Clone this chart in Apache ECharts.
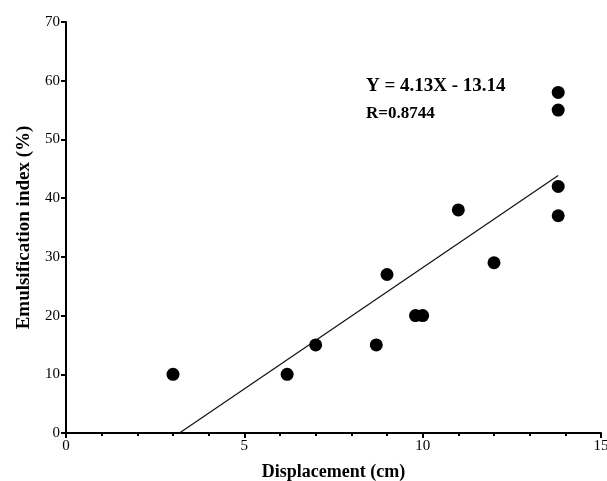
<!DOCTYPE html>
<html>
<head>
<meta charset="utf-8">
<script src="https://cdn.jsdelivr.net/npm/echarts@6/dist/echarts.min.js"></script>
<style>html,body{margin:0;padding:0;background:#fff;overflow:hidden;}#c{width:607px;height:481px;display:block;}</style>
</head>
<body>
<div id="c"></div>
<script>
// Data
const displacement = [3.0, 6.2, 7.0, 8.7, 9.0, 9.8, 10.0, 11.0, 12.0, 13.8, 13.8, 13.8, 13.8];
const emulsification = [10, 10, 15, 15, 27, 20, 20, 38, 29, 58, 55, 42, 37];
const slope = 4.13;
const intercept = -13.14;
const fitXRange = [13.14 / 4.13, 13.8];
const equationText = 'Y = 4.13X - 13.14';
const rText = 'R=0.8744';

const points = displacement.map((x, i) => [x, emulsification[i]]);
const fitLine = fitXRange.map(x => [x, slope * x + intercept]);

const FONT = '"Liberation Serif", "DejaVu Serif", serif';
const chart = echarts.init(document.getElementById('c'), null, {renderer: 'canvas', width: 607, height: 481});
chart.setOption({
  backgroundColor: '#ffffff',
  animation: false,
  grid: {left: 66, right: 6, top: 22, bottom: 48, containLabel: false, outerBoundsMode: 'none'},
  xAxis: {
    type: 'value', min: 0, max: 15, interval: 5,
    name: 'Displacement (cm)', nameLocation: 'middle', nameGap: 30,
    nameTextStyle: {fontFamily: FONT, fontWeight: 'bold', fontSize: 18, color: '#000'},
    axisLine: {show: true, onZero: false, lineStyle: {color: '#000', width: 2}},
    axisTick: {show: true, inside: false, length: 5, lineStyle: {color: '#000', width: 2}},
    minorTick: {show: true, splitNumber: 5, length: 3, lineStyle: {color: '#000', width: 2}},
    axisLabel: {fontFamily: FONT, fontSize: 15, color: '#000', margin: 6},
    splitLine: {show: false}
  },
  yAxis: {
    type: 'value', min: 0, max: 70, interval: 10,
    name: 'Emulsification index (%)', nameLocation: 'middle', nameGap: 32,
    nameTextStyle: {fontFamily: FONT, fontWeight: 'bold', fontSize: 19, color: '#000'},
    axisLine: {show: true, onZero: false, lineStyle: {color: '#000', width: 2}},
    axisTick: {show: true, inside: false, length: 5, lineStyle: {color: '#000', width: 2}},
    axisLabel: {fontFamily: FONT, fontSize: 15, color: '#000', margin: 6},
    splitLine: {show: false}
  },
  graphic: [
    {type: 'text', left: 366, top: 77, style: {text: equationText, font: 'bold 19px ' + FONT, fill: '#000'}},
    {type: 'text', left: 366, top: 105, style: {text: rText, font: 'bold 17px ' + FONT, fill: '#000'}}
  ],
  series: [
    {
      type: 'line', data: fitLine, symbol: 'none', silent: true,
      lineStyle: {color: '#111', width: 1.2}, z: 1
    },
    {
      type: 'scatter', data: points, symbol: 'circle', symbolSize: 13,
      itemStyle: {color: '#000', opacity: 1}, z: 2
    }
  ]
});
</script>
</body>
</html>
